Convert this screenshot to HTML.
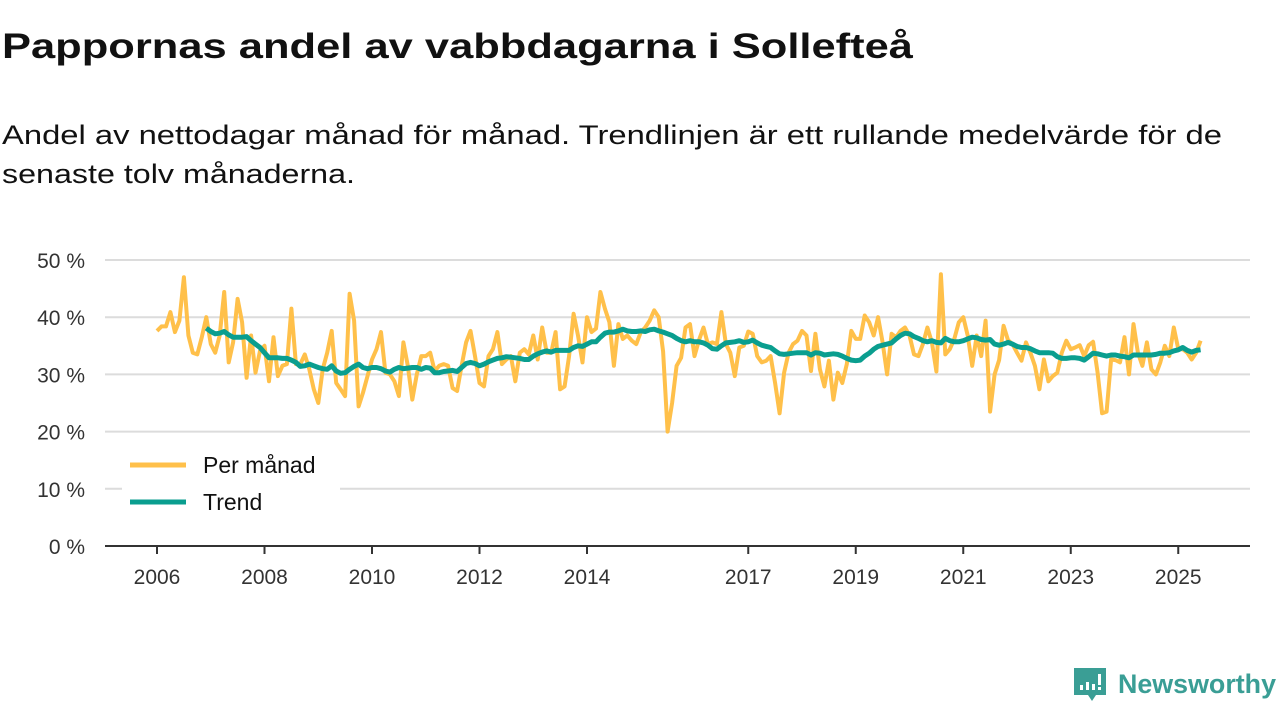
<!DOCTYPE html>
<html><head><meta charset="utf-8"><style>
html,body{margin:0;padding:0;background:#fff;width:1280px;height:720px;overflow:hidden}
svg{display:block;font-family:"Liberation Sans","DejaVu Sans",sans-serif}
</style></head><body>
<svg id="chart" width="1280" height="720" viewBox="0 0 1280 720">
<text x="2" y="58" font-size="35" font-weight="bold" fill="#111" textLength="911" lengthAdjust="spacingAndGlyphs">Pappornas andel av vabbdagarna i Sollefteå</text>
<text x="2" y="144" font-size="27" fill="#111" textLength="1220" lengthAdjust="spacingAndGlyphs">Andel av nettodagar månad för månad. Trendlinjen är ett rullande medelvärde för de</text>
<text x="2" y="183" font-size="27" fill="#111" textLength="353" lengthAdjust="spacingAndGlyphs">senaste tolv månaderna.</text>
<g id="grid"></g>
<g id="ylabels"></g>
<g id="xaxis"></g>
<g id="series"></g>
<g>
<rect x="122" y="448" width="218" height="72" fill="#fff"/>
<line x1="130" y1="465" x2="186" y2="465" stroke="#ffc04a" stroke-width="5"/>
<text x="203" y="473" font-size="23" fill="#111">Per månad</text>
<line x1="130" y1="502" x2="186" y2="502" stroke="#0a9e8f" stroke-width="5"/>
<text x="203" y="510" font-size="23" fill="#111">Trend</text>
</g>
<g>
<path d="M1074 668 h32 v27 h-10 l-4 6 l-4 -6 h-14 z" fill="#3a9e95"/>
<rect x="1080" y="685" width="3" height="5" fill="#fff"/><rect x="1086" y="682" width="3" height="8" fill="#fff"/><rect x="1092" y="684" width="3" height="6" fill="#fff"/><rect x="1098" y="674" width="3" height="11" fill="#fff"/><rect x="1098" y="687" width="3" height="3" fill="#fff"/>
<text x="1118" y="693" font-size="27" font-weight="bold" fill="#3a9e95" textLength="158" lengthAdjust="spacingAndGlyphs">Newsworthy</text>
</g>
</svg>
<script>
const yTicks=[0,10,20,30,40,50];
const yTickLabels=["0 %","10 %","20 %","30 %","40 %","50 %"];
const xTicks=[2006,2008,2010,2012,2014,2017,2019,2021,2023,2025];
const startYear=2006;
const monthly=[37.6,38.4,38.4,40.9,37.4,39.4,47,36.8,33.8,33.5,36.5,40,35.3,33.8,36.8,44.4,32.1,35.6,43.2,39.1,29.4,36.8,30.3,34.1,35,28.8,36.5,29.7,31.5,31.8,41.5,31.8,31.8,33.5,30.9,27.4,25,30.9,33.8,37.6,28.5,27.4,26.2,44.1,39.4,24.4,26.8,29.7,32.6,34.4,37.4,30.3,30,28.8,26.2,35.6,31.5,25.6,30,33.2,
33.2,33.8,30.6,31.5,31.8,31.5,27.6,27.1,31.5,35.6,37.6,33.2,28.5,27.9,33.2,34.4,37.4,31.8,32.6,33.2,28.8,33.8,34.4,33.5,36.8,32.6,38.2,33.8,33.8,37.4,27.4,27.9,33.2,40.6,36.8,32.1,40,37.4,38,44.4,41.5,39.1,31.5,38.8,36.2,36.8,35.9,35.3,37.4,38.2,39.4,41.2,40,34,20,25,31.5,32.9,38.2,38.8,33.2,
36,38.2,35.3,35.6,35.3,40.9,35.3,33.8,29.7,34.7,35,37.5,37.1,33.2,32.1,32.4,33.2,28.5,23.2,30.3,33.8,35.3,35.9,37.6,36.8,30.6,37.1,30.9,27.9,32.4,25.6,30.3,28.5,31.8,37.6,36.2,36.2,40.3,39.1,36.8,40,35.6,30,37.1,36.5,37.6,38.2,36.8,33.5,33.2,35.3,38.2,35.6,30.5,47.5,33.5,34.4,36.2,39.1,40,36.8,31.5,
36.8,33.2,39.4,23.5,30,32.5,38.5,36,35.3,33.8,32.4,35.6,33.8,31.5,27.4,32.6,28.8,29.7,30.3,33.8,35.9,34.4,34.7,35.1,33.2,35.1,35.7,30.3,23.2,23.5,32.6,32.5,32.1,36.5,30,38.8,33.8,31.5,35.6,30.9,30,32.1,35,33.2,38.2,34.4,34.4,33.8,32.6,33.8,35.9];
const trendStart=11;
const trend=[38.1,37.5,37.1,37.2,37.5,36.9,36.5,36.5,36.5,36.6,35.9,35.3,34.7,33.8,32.9,32.9,32.9,32.8,32.8,32.5,32.1,31.4,31.5,31.8,31.5,31.2,31,30.9,31.5,30.6,30.2,30.3,30.9,31.4,31.8,31.2,31,31.2,31.2,31,30.6,30.4,30.9,31.2,31,31.1,31.2,31.2,30.9,
31.2,31.1,30.3,30.3,30.5,30.6,30.7,30.5,31.2,31.9,32.1,31.9,31.5,31.8,32.2,32.5,32.8,32.9,33.1,33,32.9,32.8,32.6,32.6,33.2,33.6,33.9,34.1,33.9,34.2,34.2,34.2,34.2,34.7,35,34.9,35.3,35.7,35.7,36.5,37.2,37.4,37.4,37.6,37.9,37.6,37.5,37.5,37.6,37.5,37.8,37.9,37.6,37.4,37.1,36.8,36.3,35.9,35.7,35.9,35.7,
35.7,35.5,35.1,34.5,34.4,35,35.5,35.6,35.7,35.9,35.6,35.7,36,35.5,35.1,34.9,34.7,34.1,33.6,33.5,33.6,33.7,33.8,33.8,33.8,33.4,33.8,33.7,33.4,33.5,33.6,33.5,33.2,32.8,32.5,32.4,32.5,33.2,33.7,34.4,34.9,35.1,35.3,35.5,36.2,36.8,37.2,37.1,36.6,36.3,35.9,35.7,35.9,35.6,35.5,36.3,35.9,35.7,35.7,35.9,36.2,36.5,
36.4,36.1,36,36.1,35.3,35.1,35.3,35.6,35.3,34.9,34.7,34.7,34.5,34.1,33.8,33.8,33.8,33.7,33.1,32.8,32.8,32.9,32.9,32.8,32.5,33.1,33.7,33.6,33.4,33.2,33.4,33.4,33.2,33.1,32.9,33.4,33.4,33.4,33.4,33.4,33.5,33.7,33.7,33.8,34.1,34.3,34.7,34.2,33.9,34.2,34.3];

const NS='http://www.w3.org/2000/svg';
const x0=157, pxPerYear=53.75, yBase=546, pxPerPct=5.72, plotL=105, plotR=1250;
const xScale=t=>x0+(t-startYear)*pxPerYear;
const yScale=v=>yBase-v*pxPerPct;
function mk(tag,attrs,parent){const e=document.createElementNS(NS,tag);for(const k in attrs)e.setAttribute(k,attrs[k]);parent.appendChild(e);return e;}
const grid=document.getElementById('grid'),yl=document.getElementById('ylabels'),xa=document.getElementById('xaxis'),ser=document.getElementById('series');
yTicks.forEach((v,i)=>{
  if(v>0){const g=mk('line',{x1:plotL,x2:plotR,y1:yScale(v),y2:yScale(v),stroke:'#dcdcdc','stroke-width':2},grid);
  
  }
  const t=mk('text',{x:85,y:yScale(v)+8,'text-anchor':'end','font-size':21,fill:'#333'},yl);
  t.textContent=yTickLabels[i];
  
  
});
const ax=mk('line',{x1:plotL,x2:plotR,y1:yBase,y2:yBase,stroke:'#333','stroke-width':2},xa);


xTicks.forEach(y=>{
  const x=xScale(y);
  const tk=mk('line',{x1:x,x2:x,y1:yBase,y2:yBase+8,stroke:'#333','stroke-width':2},xa);
  
  
  const t=mk('text',{x:x,y:584,'text-anchor':'middle','font-size':21,fill:'#333'},xa);
  t.textContent=y;
  
  
});
const mPts=monthly.map((v,i)=>xScale(startYear+i/12).toFixed(1)+','+yScale(v).toFixed(1)).join(' ');
const pm=mk('polyline',{points:mPts,fill:'none',stroke:'#ffc04a','stroke-width':4,'stroke-linejoin':'round'},ser);


const tPts=trend.map((v,i)=>xScale(startYear+(i+trendStart)/12).toFixed(1)+','+yScale(v).toFixed(1)).join(' ');
const pt=mk('polyline',{points:tPts,fill:'none',stroke:'#0a9e8f','stroke-width':5,'stroke-linejoin':'round'},ser);


</script>
</body></html>
